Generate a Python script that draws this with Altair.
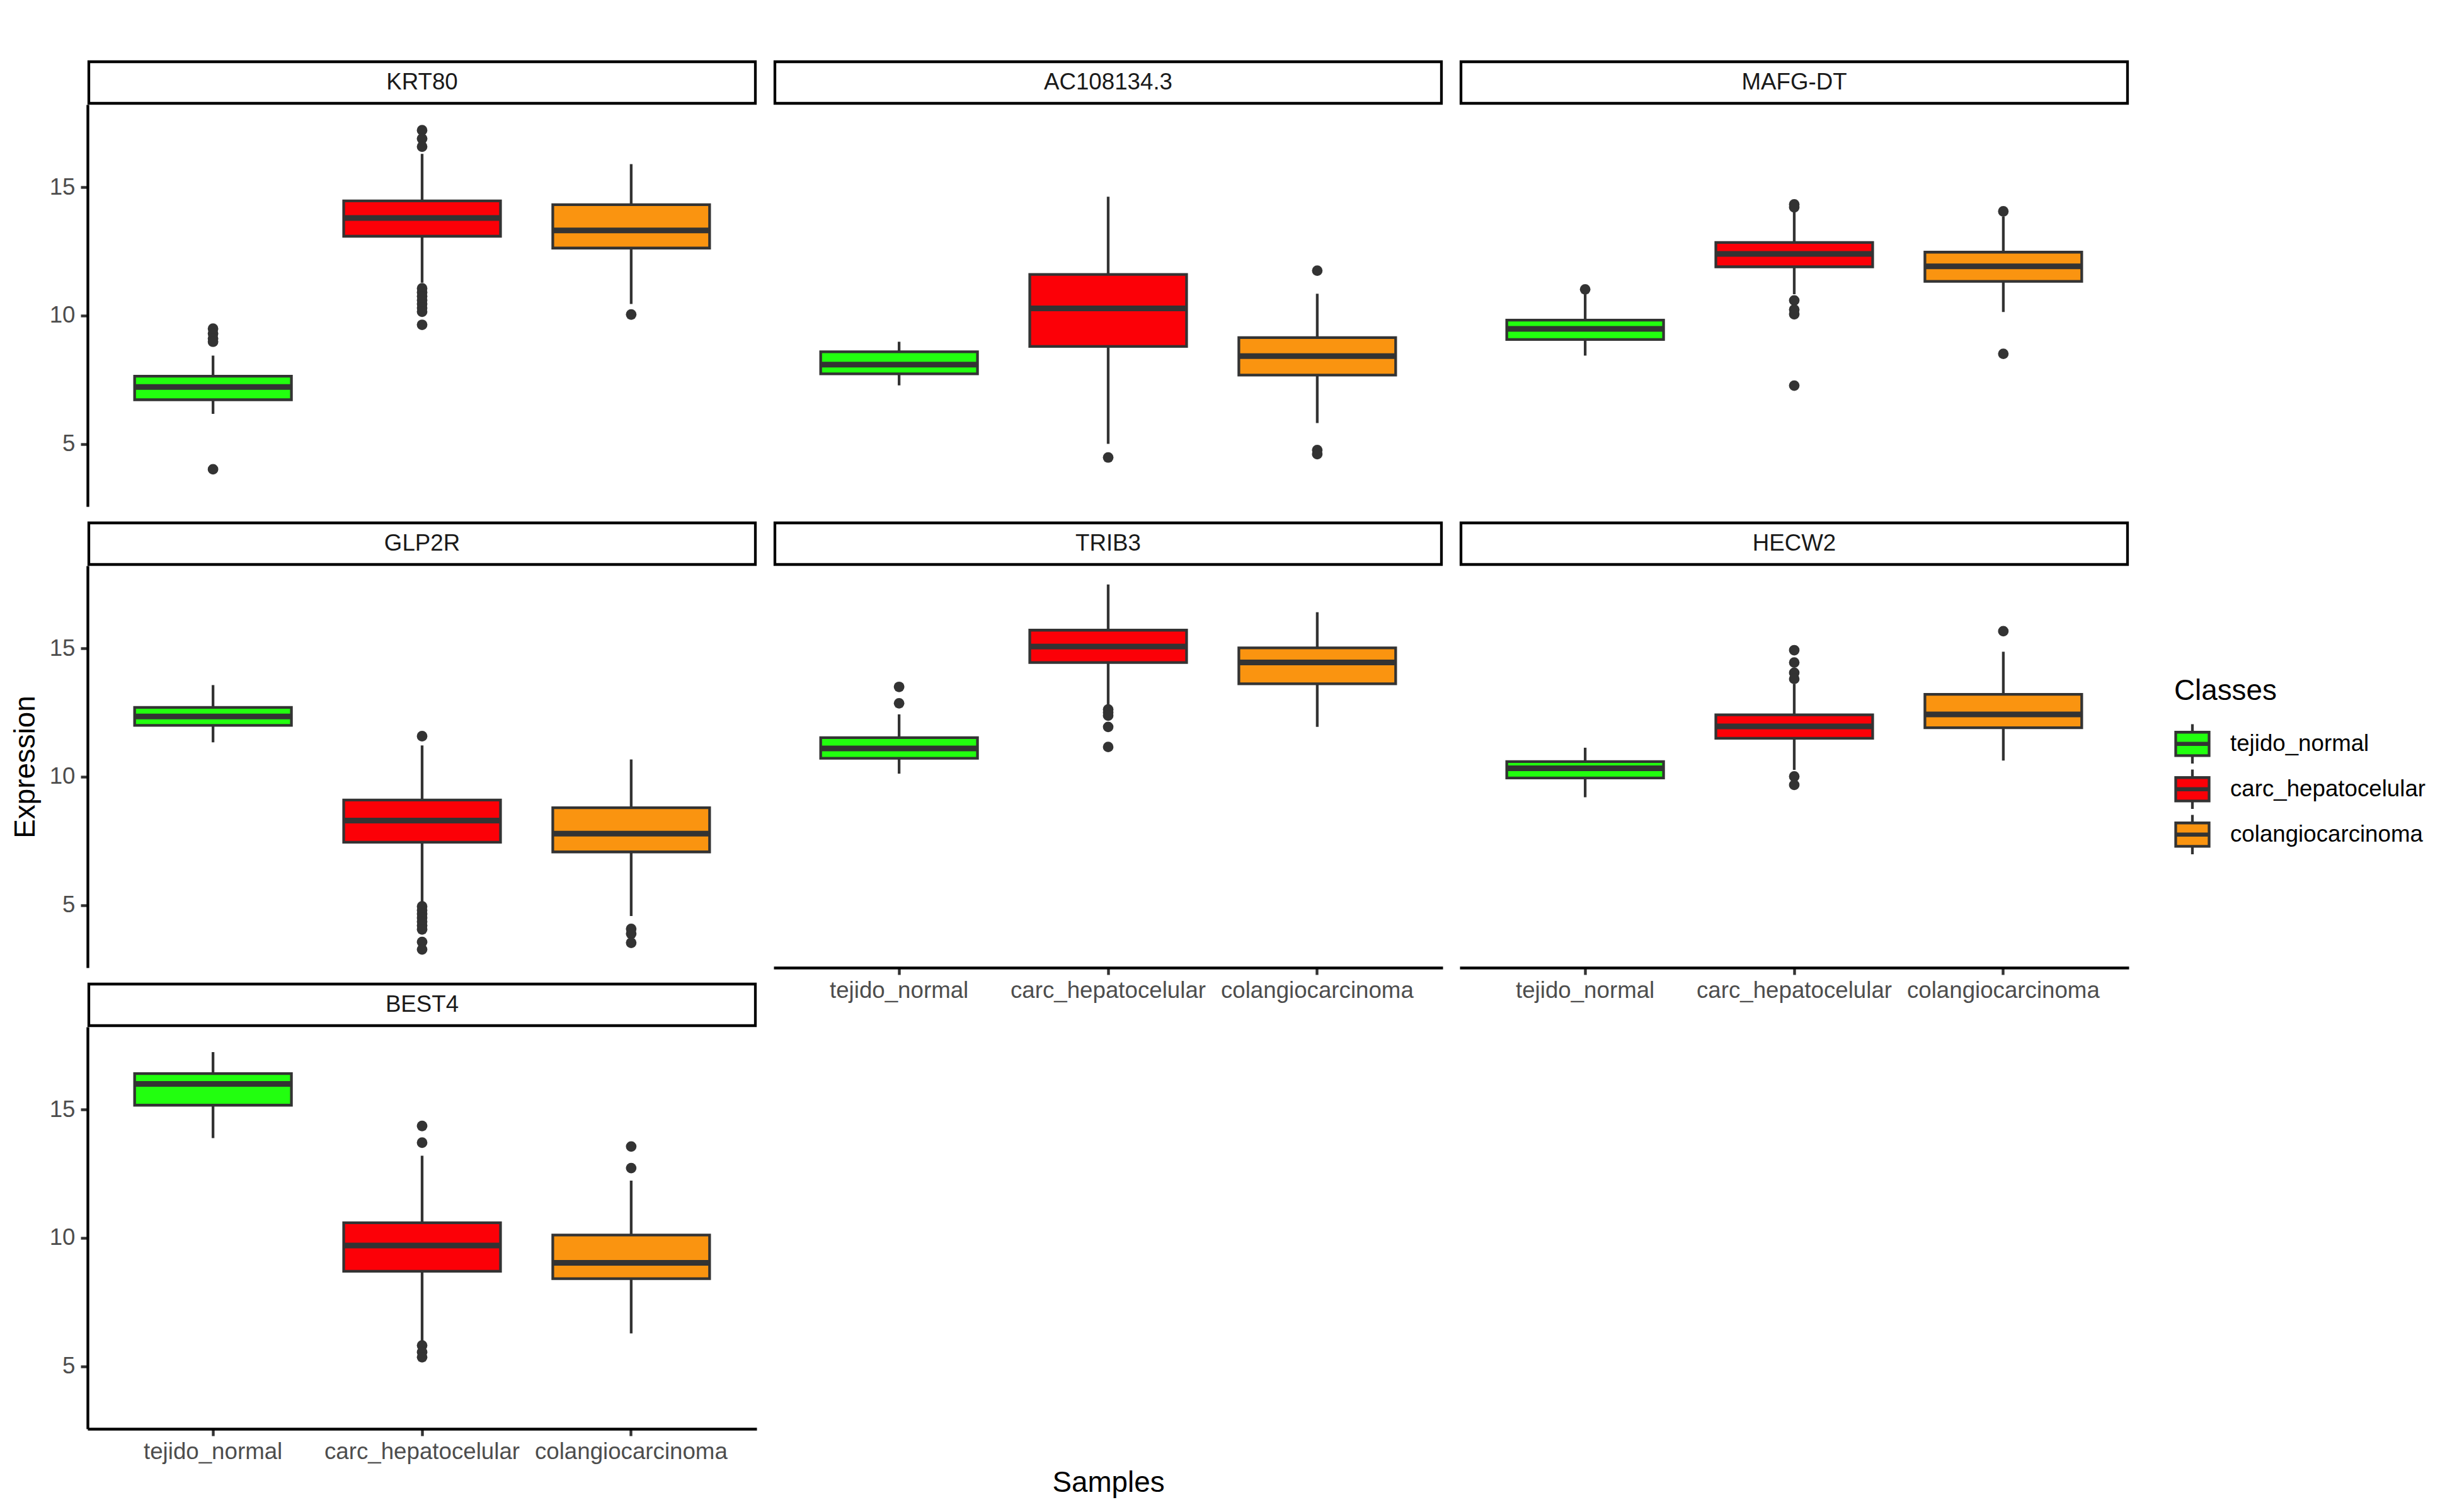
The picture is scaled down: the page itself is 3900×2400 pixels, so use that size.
import altair as alt
import pandas as pd

genes = ["KRT80", "AC108134.3", "MAFG-DT", "GLP2R", "TRIB3", "HECW2", "BEST4"]
classes = ["tejido_normal", "carc_hepatocelular", "colangiocarcinoma"]
colors = ["#22FF0F", "#FC0007", "#FA9410"]

# box statistics per gene, in class order
whisker_low = {
    "KRT80": [6.17, 11.28, 10.45],
    "AC108134.3": [7.28, 5.00, 5.81],
    "MAFG-DT": [8.44, 10.83, 10.14],
    "GLP2R": [11.34, 5.14, 4.57],
    "TRIB3": [10.12, 12.79, 11.94],
    "HECW2": [9.20, 10.27, 10.63],
    "BEST4": [13.89, 5.97, 6.28],
}
q1 = {
    "KRT80": [6.72, 13.09, 12.63],
    "AC108134.3": [7.73, 8.80, 7.68],
    "MAFG-DT": [9.07, 11.90, 11.33],
    "GLP2R": [12.00, 7.45, 7.07],
    "TRIB3": [10.72, 14.45, 13.62],
    "HECW2": [9.95, 11.50, 11.91],
    "BEST4": [15.17, 8.70, 8.41],
}
median = {
    "KRT80": [7.22, 13.80, 13.32],
    "AC108134.3": [8.09, 10.28, 8.42],
    "MAFG-DT": [9.48, 12.40, 11.92],
    "GLP2R": [12.35, 8.29, 7.78],
    "TRIB3": [11.10, 15.07, 14.45],
    "HECW2": [10.33, 11.96, 12.43],
    "BEST4": [16.00, 9.70, 9.03],
}
q3 = {
    "KRT80": [7.64, 14.47, 14.32],
    "AC108134.3": [8.59, 11.60, 9.14],
    "MAFG-DT": [9.82, 12.85, 12.47],
    "GLP2R": [12.70, 9.09, 8.79],
    "TRIB3": [11.52, 15.71, 15.02],
    "HECW2": [10.59, 12.41, 13.21],
    "BEST4": [16.40, 10.59, 10.11],
}
whisker_high = {
    "KRT80": [8.44, 16.30, 15.90],
    "AC108134.3": [8.98, 14.63, 10.85],
    "MAFG-DT": [10.83, 14.04, 13.86],
    "GLP2R": [13.57, 11.22, 10.67],
    "TRIB3": [12.43, 17.49, 16.41],
    "HECW2": [11.13, 13.62, 14.87],
    "BEST4": [17.24, 13.20, 12.23],
}
outliers = {
    "KRT80": [[9.49, 9.30, 9.10, 8.98, 4.01],
              [17.22, 16.89, 16.58, 11.06, 10.90, 10.75, 10.60, 10.45, 10.30, 10.15, 9.64],
              [10.04]],
    "AC108134.3": [[], [4.47], [11.75, 4.76, 4.60]],
    "MAFG-DT": [[11.02], [14.33, 14.22, 10.59, 10.23, 10.05, 7.27], [14.06, 8.51]],
    "GLP2R": [[], [11.58, 4.95, 4.80, 4.65, 4.50, 4.35, 4.20, 4.05, 3.56, 3.27], [4.07, 3.88, 3.53]],
    "TRIB3": [[13.50, 12.86], [12.62, 12.50, 12.38, 11.94, 11.16], []],
    "HECW2": [[], [14.93, 14.45, 14.05, 13.81, 10.01, 9.68], [15.67]],
    "BEST4": [[], [14.36, 13.71, 5.81, 5.55, 5.35], [13.56, 12.72]],
}
y_ticks = [5, 10, 15]

W, H, S = 1062, 638, 94
YDOM = [2.56, 18.22]
FONT = "Liberation Sans"
DARK = "#333333"
LEG_PATH = "M-1,-0.7H1V0.7H-1Z M-1,-0.04H1V0.04H-1Z M0,-0.7V-1.18 M0,0.7V1.18"

bottom_genes = ["TRIB3", "HECW2", "BEST4"]


def make_panel(i, g):
    col = i % 3
    box = pd.DataFrame({
        "cls": classes, "lo": whisker_low[g], "q1": q1[g],
        "med": median[g], "q3": q3[g], "hi": whisker_high[g],
    })
    rows = [(c, v) for c, vals in zip(classes, outliers[g]) for v in vals]
    outl = pd.DataFrame(rows, columns=["cls", "value"])

    xscale = alt.Scale(type="band", domain=classes, paddingInner=0.25, paddingOuter=0.225)
    yscale = alt.Scale(domain=YDOM, nice=False, zero=False)

    if g in bottom_genes:
        xkw = dict(labelAngle=0, grid=False, domainColor="black", domainWidth=4.4,
                   tickColor=DARK, tickWidth=4.4, tickSize=11, labelFontSize=36.7,
                   labelColor="#4D4D4D", labelPadding=7, labelFont=FONT, labelLimit=600)
        if g == "BEST4":
            xkw.update(titleX=1620, titleY=85, titleAlign="center", titleBaseline="middle",
                       titleFontSize=45.8, titleColor="black", titleFontWeight="normal",
                       titleFont=FONT)
            xtitle = "Samples"
        else:
            xtitle = ""
        xenc = alt.X("cls:N", scale=xscale, axis=alt.Axis(**xkw), title=xtitle)
    else:
        xenc = alt.X("cls:N", scale=xscale, axis=None)

    def yenc(field):
        if col == 0:
            ykw = dict(values=y_ticks, grid=False, domainColor="black", domainWidth=4.4,
                       tickColor=DARK, tickWidth=4.4, tickSize=11, labelFontSize=36.7,
                       labelColor="#4D4D4D", labelPadding=9, labelFont=FONT)
            if g == "GLP2R":
                ykw.update(titleX=-99, titleY=H / 2, titleAlign="center", titleBaseline="middle",
                           titleAngle=270, titleFontSize=45.8, titleColor="black",
                           titleFontWeight="normal", titleFont=FONT)
                ytitle = "Expression"
            else:
                ytitle = ""
            return alt.Y(field, scale=yscale, axis=alt.Axis(**ykw), title=ytitle)
        return alt.Y(field, scale=yscale, axis=None)

    legend = alt.Legend(
        title="Classes", orient="none", legendX=3312, legendY=1003,
        symbolType=LEG_PATH, symbolSize=2809, symbolStrokeColor=DARK, symbolStrokeWidth=4.3,
        labelFont=FONT, labelFontSize=36.7, labelColor="black", labelLimit=800,
        labelOffset=31, titleFont=FONT, titleFontSize=45.8, titleFontWeight="normal",
        titleColor="black", titlePadding=24, rowPadding=0, clipHeight=72,
    )

    base = alt.Chart(box)
    whisk = base.mark_rule(color=DARK, strokeWidth=4.3).encode(
        x=xenc, y=yenc("lo:Q"), y2="hi:Q")
    bars = base.mark_bar(stroke=DARK, strokeWidth=4.3, opacity=1).encode(
        x=xenc, y=yenc("q1:Q"), y2="q3:Q",
        fill=alt.Fill("cls:N", scale=alt.Scale(domain=classes, range=colors), legend=legend))
    med = base.mark_tick(color=DARK, size=249, thickness=9, opacity=1, orient="horizontal").encode(
        x=xenc, y=yenc("med:Q"))
    pts = alt.Chart(outl).mark_circle(size=283, color=DARK, opacity=1).encode(
        x=xenc, y=yenc("value:Q"))
    return alt.layer(whisk, bars, med, pts).properties(width=W, height=H)


def make_strip(g):
    d = pd.DataFrame({"gene": [g]})
    base = alt.Chart(d)
    rect = base.mark_rect(fill="white", stroke="black", strokeWidth=4.3).encode(
        x=alt.value(2), x2=alt.value(W - 2), y=alt.value(S - 68), y2=alt.value(S - 2))
    txt = base.mark_text(font=FONT, fontSize=36.7, color="#1A1A1A").encode(
        x=alt.value(W / 2), y=alt.value(S - 35), text="gene:N")
    return alt.layer(rect, txt).properties(width=W, height=S)


def make_filler(h):
    d = pd.DataFrame({"v": [0]})
    return alt.Chart(d).mark_point(opacity=0).encode(
        x=alt.X("v:Q", axis=None), y=alt.Y("v:Q", axis=None)).properties(width=W, height=h)


cells = []
for r in range(3):
    row_genes = genes[r * 3:(r + 1) * 3]
    for g in row_genes:
        cells.append(make_strip(g))
    for _ in range(3 - len(row_genes)):
        cells.append(make_filler(S))
    for g in row_genes:
        cells.append(make_panel(genes.index(g), g))

chart = alt.concat(
    *cells, columns=3, spacing={"row": 0, "column": 27}, bounds="flush", align="each"
).properties(
    padding={"left": 17, "top": 72, "right": 10, "bottom": 10},
    background="white",
).configure_view(strokeWidth=0).configure_axis(grid=False)

chart.save("out.html", embed_options={"renderer": "svg", "actions": False})
